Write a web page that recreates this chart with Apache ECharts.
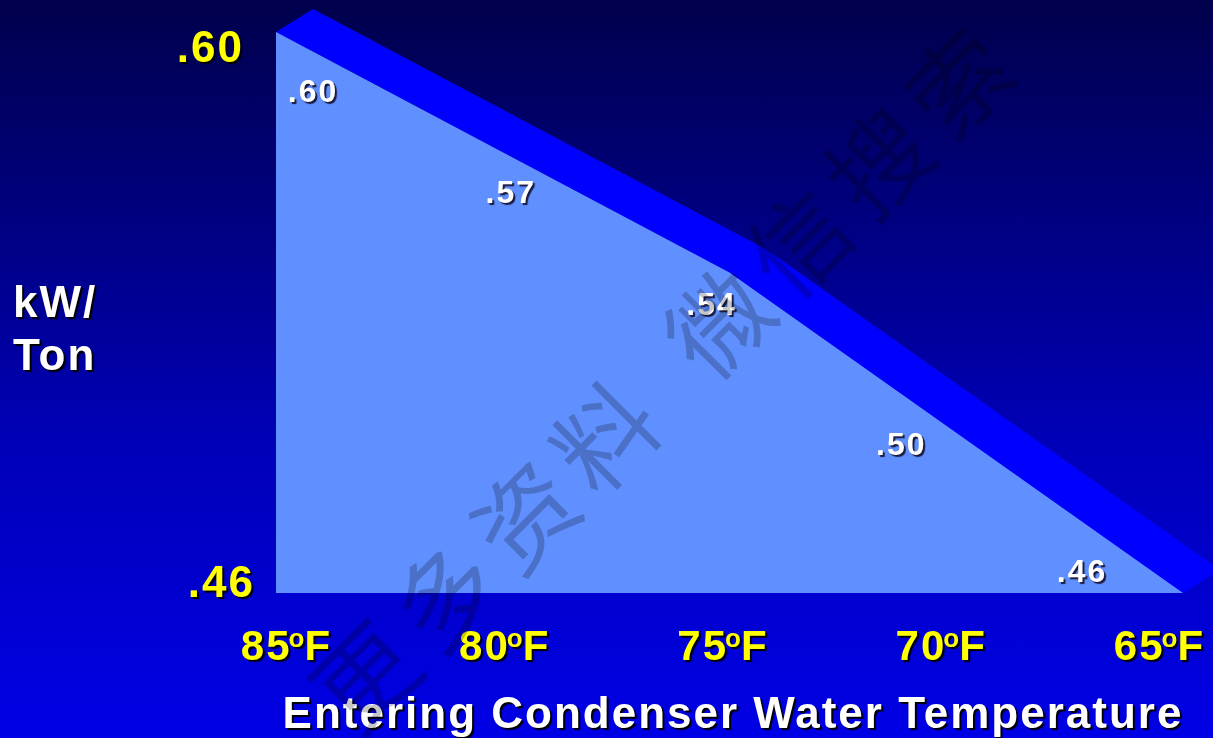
<!DOCTYPE html>
<html>
<head>
<meta charset="utf-8">
<script src="https://cdn.jsdelivr.net/npm/echarts@6/dist/echarts.min.js"></script>
<style>
  html, body { margin: 0; padding: 0; }
  #chart {
    width: 1213px; height: 738px;
    background: linear-gradient(to bottom, #00004c 0%, #00008a 35%, #0000b8 60%, #0000e6 100%);
  }
</style>
</head>
<body>
<div id="chart"></div>
<script>
// Chiller efficiency versus entering condenser water temperature
const categories = ['85°F', '80°F', '75°F', '70°F', '65°F'];
const kwPerTon = [0.60, 0.57, 0.54, 0.50, 0.46];
const valueLabels = ['.60', '.57', '.54', '.50', '.46'];
const yTicks = [0.46, 0.60];
const yTickLabels = ['.46', '.60'];
const watermark = ['更', '多', '资', '料', '微', '信', '搜', '索'];

const FONT = '"Liberation Sans", Arial, sans-serif';
const shadow = { textShadowColor: '#000000', textShadowOffsetX: 2, textShadowOffsetY: 2, textShadowBlur: 1 };

// slightly tracked lettering for all chart text
(function () {
  const proto = CanvasRenderingContext2D.prototype;
  const fill = proto.fillText;
  proto.fillText = function () {
    if ('letterSpacing' in this) this.letterSpacing = '2px';
    return fill.apply(this, arguments);
  };
})();

// pixel depth of the slanted top face
const DEPTH = [37, -23];
// label placement relative to each point
const labelShift = [[37, 82], [8, 63], [-18, 55], [-55, 34], [-101, 1]];

const chart = echarts.init(document.getElementById('chart'), null, { renderer: 'canvas' });

// watermark characters laid along a 45° line
const wmGraphics = [];
const wmSteps = [0, 1, 2, 3, 4.42, 5.42, 6.42, 7.42];
watermark.forEach((ch, i) => {
  const d = wmSteps[i] * 80;
  wmGraphics.push({
    type: 'text',
    x: 366 + d, y: 676 - d,
    rotation: Math.PI / 4,
    z: 100,
    silent: true,
    style: {
      text: ch,
      font: '400 100px "Noto Sans CJK SC"',
      fill: 'rgba(0,0,0,0.22)',
      align: 'center',
      verticalAlign: 'middle'
    }
  });
});

const nameStyle = Object.assign({
  color: '#ffffff', fontFamily: FONT, fontWeight: 'bold', fontSize: 44, lineHeight: 53
}, shadow);

const option = {
  backgroundColor: 'transparent',
  animation: false,
  grid: [
    { left: 276, right: 30, top: 32, bottom: 145, outerBoundsMode: 'none', containLabel: false },
    { left: 287, right: 53, top: 32, bottom: 145, outerBoundsMode: 'none', containLabel: false }
  ],
  xAxis: [
    {
      gridIndex: 0, type: 'category', data: categories, boundaryGap: false,
      axisLine: { show: false }, axisTick: { show: false }, axisLabel: { show: false },
      splitLine: { show: false },
      name: 'Entering Condenser Water Temperature',
      nameLocation: 'middle',
      nameGap: 101,
      nameTextStyle: Object.assign({
        color: '#ffffff', fontFamily: FONT, fontWeight: 'bold', fontSize: 44,
        lineHeight: 44, padding: [0, 0, 0, 7]
      }, shadow)
    },
    {
      gridIndex: 1, type: 'category', data: categories, boundaryGap: false,
      axisLine: { show: false }, axisTick: { show: false }, splitLine: { show: false },
      axisLabel: {
        margin: 34,
        formatter: (v) => {
          const parts = v.split('°');
          return '{n|' + parts[0] + '}{s|o}{n|' + parts[1] + '}';
        },
        rich: {
          n: Object.assign({ color: '#ffff00', fontFamily: FONT, fontWeight: 'bold', fontSize: 42, lineHeight: 42 }, shadow),
          s: Object.assign({ color: '#ffff00', fontFamily: FONT, fontWeight: 'bold', fontSize: 26, lineHeight: 26, verticalAlign: 'top' }, shadow)
        }
      }
    }
  ],
  yAxis: [
    {
      gridIndex: 0, type: 'value', min: yTicks[0], max: yTicks[yTicks.length - 1],
      splitLine: { show: false }, axisLine: { show: false }, axisTick: { show: false },
      axisLabel: {
        customValues: yTicks,
        margin: 0,
        formatter: (v) => {
          const i = yTicks.findIndex(t => Math.abs(t - v) < 1e-9);
          return (i === yTicks.length - 1 ? '{hi|' : '{lo|') + yTickLabels[i] + '}';
        },
        rich: {
          hi: Object.assign({ color: '#ffff00', fontFamily: FONT, fontWeight: 'bold', fontSize: 44, lineHeight: 44, padding: [36, 32, 0, 0] }, shadow),
          lo: Object.assign({ color: '#ffff00', fontFamily: FONT, fontWeight: 'bold', fontSize: 44, lineHeight: 44, padding: [0, 21, 16, 0] }, shadow)
        }
      },
      name: '{sp| }\n{t|kW/}\n{t|Ton}',
      nameLocation: 'middle',
      nameRotate: 0,
      nameGap: 263,
      nameTextStyle: {
        align: 'left',
        rich: {
          sp: { fontSize: 10, lineHeight: 37 },
          t: nameStyle
        }
      }
    },
    { gridIndex: 1, type: 'value', min: yTicks[0], max: yTicks[yTicks.length - 1], show: false }
  ],
  graphic: wmGraphics,
  series: [
    {
      // slanted top face behind the area
      type: 'custom',
      xAxisIndex: 0, yAxisIndex: 0,
      silent: true, clip: false, z: 1,
      data: kwPerTon.map((v, i) => [i, v]),
      renderItem: (params, api) => {
        if (params.dataIndex !== 0) return null;
        const pts = kwPerTon.map((v, i) => api.coord([i, v]));
        const back = pts.map(p => [p[0] + DEPTH[0], p[1] + DEPTH[1]]).reverse();
        return {
          type: 'polygon',
          shape: { points: pts.concat(back) },
          style: { fill: '#0000ff' }
        };
      }
    },
    {
      type: 'line',
      xAxisIndex: 0, yAxisIndex: 0,
      z: 2,
      data: kwPerTon.map((v, i) => ({
        value: v,
        label: { offset: labelShift[i] }
      })),
      symbol: 'circle',
      symbolSize: 0,
      showSymbol: true,
      lineStyle: { width: 0 },
      areaStyle: { color: '#6090ff', opacity: 1, origin: 'start' },
      label: {
        show: true,
        position: 'top',
        distance: 5,
        formatter: (p) => valueLabels[p.dataIndex],
        color: '#ffffff', fontFamily: FONT, fontWeight: 'bold', fontSize: 32, lineHeight: 32,
        textShadowColor: '#1a1a40', textShadowOffsetX: 2, textShadowOffsetY: 2, textShadowBlur: 1
      }
    }
  ]
};

chart.setOption(option);
</script>
</body>
</html>
